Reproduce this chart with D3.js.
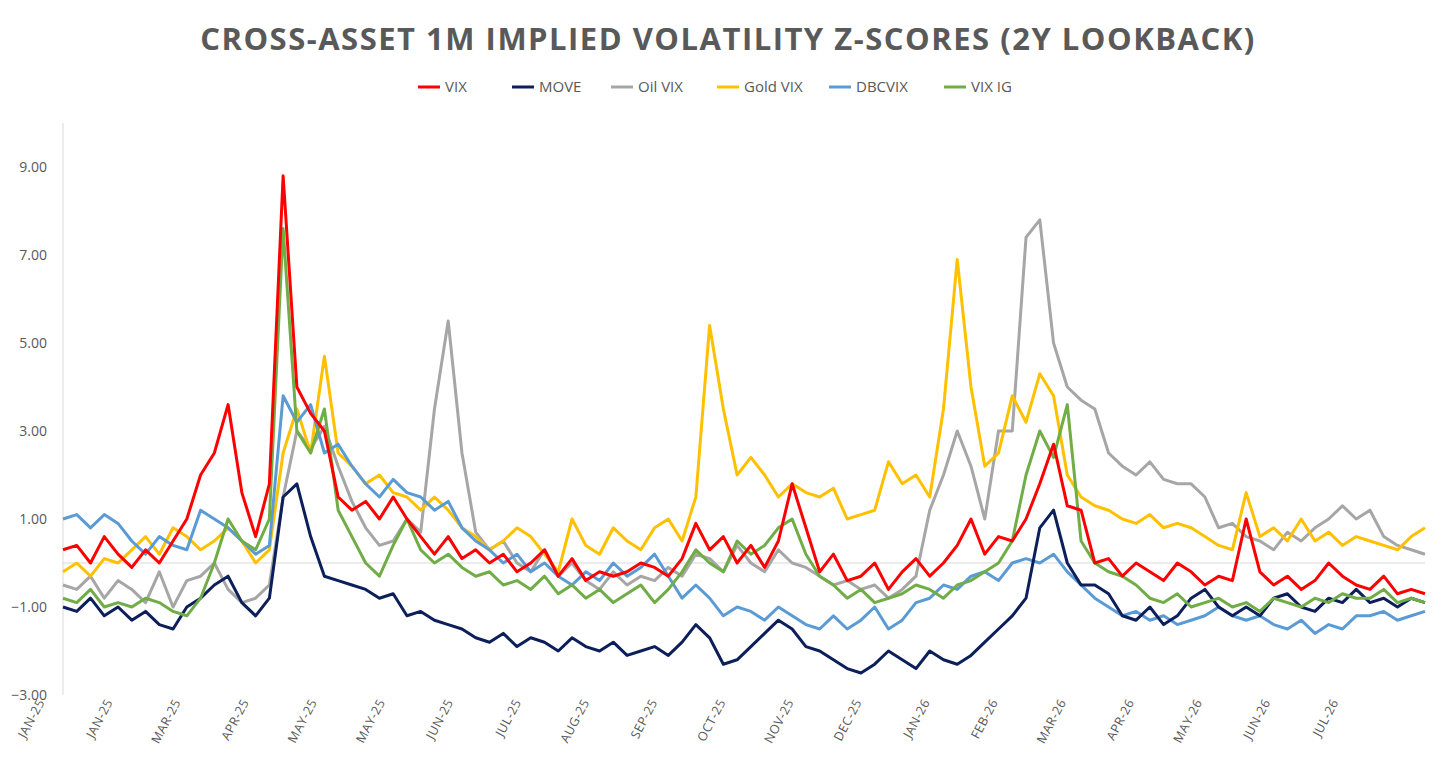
<!DOCTYPE html>
<html><head><meta charset="utf-8">
<script src="https://cdn.jsdelivr.net/npm/d3@7"></script>
<style>body{margin:0;background:#fff;font-family:"Open Sans",Calibri,sans-serif}</style>
</head><body><svg id="c" width="1456" height="772"></svg>
<script>
const monthLabels = ["JAN-25","JAN-25","MAR-25","APR-25","MAY-25","MAY-25","JUN-25","JUL-25","AUG-25","SEP-25","OCT-25","NOV-25","DEC-25","JAN-26","FEB-26","MAR-26","APR-26","MAY-26","JUN-26","JUL-26"];
const yTicks = [-3,-1,1,3,5,7,9];

const vix = [0.3,0.4,0.0,0.6,0.2,-0.1,0.3,0.0,0.5,1.0, 2.0,2.5,3.6,1.6,0.6, 1.8,8.8,4.0,3.4,3.0,
 1.5,1.2,1.4,1.0,1.5,1.0,0.6, 0.2,0.6,0.1,0.3,0.0,0.2,-0.2,0.0, 0.3,-0.3,0.1,-0.4,-0.2,-0.3,-0.2,0.0,-0.1,-0.3,
 0.1,0.9,0.3,0.6,0.0,0.4,-0.1,0.5,1.8,0.8, -0.2,0.2,-0.4,-0.3,0.0,-0.6,-0.2,0.1,-0.3,0.0,
 0.4,1.0,0.2,0.6,0.5,1.0,1.8,2.7,1.3,1.2, 0.0,0.1,-0.3,0.0,-0.2,-0.4,0.0,-0.2,-0.5,-0.3,
 -0.4,1.0,-0.2,-0.5,-0.3,-0.6,-0.4,0.0,-0.3,-0.5, -0.6,-0.3,-0.7,-0.6,-0.7];
const move = [-1.0,-1.1,-0.8,-1.2,-1.0,-1.3,-1.1,-1.4,-1.5,-1.0, -0.8,-0.5,-0.3,-0.9,-1.2, -0.8,1.5,1.8,0.6,-0.3,
 -0.4,-0.5,-0.6,-0.8,-0.7,-1.2,-1.1, -1.3,-1.4,-1.5,-1.7,-1.8,-1.6,-1.9,-1.7, -1.8,-2.0,-1.7,-1.9,-2.0,-1.8,-2.1,-2.0,-1.9,-2.1,
 -1.8,-1.4,-1.7,-2.3,-2.2,-1.9,-1.6,-1.3,-1.5,-1.9, -2.0,-2.2,-2.4,-2.5,-2.3,-2.0,-2.2,-2.4,-2.0,-2.2,
 -2.3,-2.1,-1.8,-1.5,-1.2,-0.8,0.8,1.2,0.0,-0.5, -0.5,-0.7,-1.2,-1.3,-1.0,-1.4,-1.2,-0.8,-0.6,-1.0,
 -1.2,-1.0,-1.2,-0.8,-0.7,-1.0,-1.1,-0.8,-0.9,-0.6, -0.9,-0.8,-1.0,-0.8,-0.9];
const oilVix = [-0.5,-0.6,-0.3,-0.8,-0.4,-0.6,-0.9,-0.2,-1.0,-0.4, -0.3,0.0,-0.6,-0.9,-0.8, -0.5,1.5,3.0,2.6,3.1,
 2.2,1.4,0.8,0.4,0.5,1.0,0.7, 3.5,5.5,2.5,0.7,0.3,0.5,0.0,-0.2, 0.3,-0.3,0.0,-0.4,-0.6,-0.2,-0.5,-0.3,-0.4,-0.1,
 -0.3,0.2,0.1,-0.2,0.4,0.0,-0.2,0.3,0.0,-0.1, -0.3,-0.5,-0.4,-0.6,-0.5,-0.8,-0.6,-0.3,1.2,2.0,
 3.0,2.2,1.0,3.0,3.0,7.4,7.8,5.0,4.0,3.7, 3.5,2.5,2.2,2.0,2.3,1.9,1.8,1.8,1.5,0.8,
 0.9,0.6,0.5,0.3,0.7,0.5,0.8,1.0,1.3,1.0, 1.2,0.6,0.4,0.3,0.2];
const goldVix = [-0.2,0.0,-0.3,0.1,0.0,0.3,0.6,0.2,0.8,0.6, 0.3,0.5,0.8,0.5,0.0, 0.3,2.5,3.5,2.5,4.7,
 2.5,2.2,1.8,2.0,1.6,1.5,1.2, 1.5,1.2,0.8,0.6,0.3,0.5,0.8,0.6, 0.2,-0.2,1.0,0.4,0.2,0.8,0.5,0.3,0.8,1.0,
 0.5,1.5,5.4,3.5,2.0,2.4,2.0,1.5,1.8,1.6, 1.5,1.7,1.0,1.1,1.2,2.3,1.8,2.0,1.5,3.5,
 6.9,4.0,2.2,2.5,3.8,3.2,4.3,3.8,2.0,1.5, 1.3,1.2,1.0,0.9,1.1,0.8,0.9,0.8,0.6,0.4,
 0.3,1.6,0.6,0.8,0.5,1.0,0.5,0.7,0.4,0.6, 0.5,0.4,0.3,0.6,0.8];
const dbcVix = [1.0,1.1,0.8,1.1,0.9,0.5,0.2,0.6,0.4,0.3, 1.2,1.0,0.8,0.5,0.2, 0.4,3.8,3.2,3.6,2.5,
 2.7,2.2,1.8,1.5,1.9,1.6,1.5, 1.2,1.4,0.8,0.5,0.3,0.0,0.2,-0.2, 0.0,-0.3,-0.5,-0.2,-0.4,0.0,-0.3,-0.1,0.2,-0.3,
 -0.8,-0.5,-0.8,-1.2,-1.0,-1.1,-1.3,-1.0,-1.2,-1.4, -1.5,-1.2,-1.5,-1.3,-1.0,-1.5,-1.3,-0.9,-0.8,-0.5,
 -0.6,-0.3,-0.2,-0.4,0.0,0.1,0.0,0.2,-0.2,-0.5, -0.8,-1.0,-1.2,-1.1,-1.3,-1.2,-1.4,-1.3,-1.2,-1.0,
 -1.2,-1.3,-1.2,-1.4,-1.5,-1.3,-1.6,-1.4,-1.5,-1.2, -1.2,-1.1,-1.3,-1.2,-1.1];
const vixIG = [-0.8,-0.9,-0.6,-1.0,-0.9,-1.0,-0.8,-0.9,-1.1,-1.2, -0.8,0.0,1.0,0.5,0.3, 1.0,7.6,3.0,2.5,3.5,
 1.2,0.6,0.0,-0.3,0.4,1.0,0.3, 0.0,0.2,-0.1,-0.3,-0.2,-0.5,-0.4,-0.6, -0.3,-0.7,-0.5,-0.8,-0.6,-0.9,-0.7,-0.5,-0.9,-0.6,
 -0.2,0.3,0.0,-0.2,0.5,0.2,0.4,0.8,1.0,0.2, -0.3,-0.5,-0.8,-0.6,-0.9,-0.8,-0.7,-0.5,-0.6,-0.8,
 -0.5,-0.4,-0.2,0.0,0.5,2.0,3.0,2.4,3.6,0.5, 0.0,-0.2,-0.3,-0.5,-0.8,-0.9,-0.7,-1.0,-0.9,-0.8,
 -1.0,-0.9,-1.1,-0.8,-0.9,-1.0,-0.8,-0.9,-0.7,-0.8, -0.8,-0.6,-0.9,-0.8,-0.9];

const series = [
  {name:"VIX", values:vix, color:"#ff0000"},
  {name:"MOVE", values:move, color:"#0c1f5a"},
  {name:"Oil VIX", values:oilVix, color:"#a6a6a6"},
  {name:"Gold VIX", values:goldVix, color:"#ffc000"},
  {name:"DBCVIX", values:dbcVix, color:"#5b9bd5"},
  {name:"VIX IG", values:vixIG, color:"#70ad47"}
];
const drawOrder = ["Oil VIX","Gold VIX","DBCVIX","MOVE","VIX IG","VIX"];

const svg = d3.select("#c");
const pLeft = 63, pRight = 1425, pTop = 123, pBottom = 695;
const x = d3.scaleLinear().domain([0, vix.length-1]).range([pLeft, pRight]);
const y = d3.scaleLinear().domain([-3, 10]).range([pBottom, pTop]);

svg.append("text").attr("x", 728).attr("y", 50).attr("text-anchor","middle")
  .attr("font-size", 31).attr("font-weight", 700).attr("fill", "#595959").attr("letter-spacing", 1.5)
  .text("CROSS-ASSET 1M IMPLIED VOLATILITY Z-SCORES (2Y LOOKBACK)");

// legend
const legX = [418, 512, 611, 717, 829, 944];
series.forEach((s,i) => {
  const g = svg.append("g").attr("transform", `translate(${legX[i]},87)`);
  g.append("line").attr("x1",0).attr("x2",22).attr("stroke",s.color).attr("stroke-width",3);
  g.append("text").attr("x",27).attr("y",5).attr("font-size",15).attr("fill","#595959").text(s.name);
});

// axes
svg.append("line").attr("x1",pLeft).attr("x2",pLeft).attr("y1",pTop).attr("y2",pBottom).attr("stroke","#d9d9d9");
svg.append("line").attr("x1",pLeft).attr("x2",pRight).attr("y1",y(0)).attr("y2",y(0)).attr("stroke","#d9d9d9");
svg.selectAll(".yt").data(yTicks).join("text")
  .attr("x",47).attr("y",d=>y(d)+5).attr("text-anchor","end").attr("font-size",14).attr("fill","#595959")
  .text(d=>d3.format(".2f")(d));

const xl = d3.scaleLinear().domain([0, monthLabels.length]).range([pLeft, pRight]);
svg.selectAll(".xt").data(monthLabels).join("text")
  .attr("transform",(d,i)=>`translate(${xl(i)-18},702) rotate(-62)`)
  .attr("text-anchor","end").attr("font-size",12.5).attr("fill","#595959").attr("letter-spacing",0.5)
  .text(d=>d);

const line = d3.line().x((d,i)=>x(i)).y(d=>y(d));
drawOrder.forEach(n => {
  const s = series.find(t=>t.name===n);
  svg.append("path").datum(s.values).attr("d",line).attr("fill","none")
    .attr("stroke",s.color).attr("stroke-width",3).attr("stroke-linejoin","round");
});
</script></body></html>
